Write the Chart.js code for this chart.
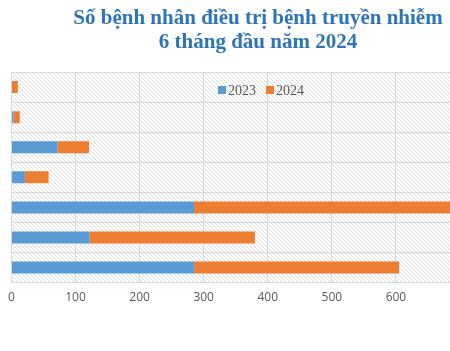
<!DOCTYPE html>
<html>
<head>
<meta charset="utf-8">
<script src="https://cdn.jsdelivr.net/npm/chart.js@4"></script>
<style>
  html, body { margin: 0; padding: 0; background: #fff; overflow: hidden; }
  #wrap { position: relative; width: 516px; height: 351px; }
</style>
</head>
<body>
<div id="wrap"><canvas id="grafico" width="516" height="351"></canvas></div>
<script>
const categorias = ['', '', '', '', '', '', ''];
const series = ['2023', '2024'];
const valores2023 = [0, 3, 72, 21, 285, 122, 285];
const valores2024 = [10, 10, 49, 37, 410, 258, 320];
const ticksX = [0, 100, 200, 300, 400, 500, 600, 700];
const cores = ['#5b9bd5', '#ed7d31'];

// fundo hachurado da área do gráfico
function criarHachura() {
    const c = document.createElement('canvas');
    c.width = 4; c.height = 4;
    const g = c.getContext('2d');
    g.strokeStyle = '#dcdcdc';
    g.lineWidth = 1;
    g.beginPath();
    g.moveTo(-1, -1); g.lineTo(5, 5);
    g.moveTo(-1, 3); g.lineTo(1, 5);
    g.moveTo(3, -1); g.lineTo(5, 1);
    g.stroke();
    return c;
}

const fundoHachurado = {
    id: 'fundoHachurado',
    beforeDraw(chart) {
        const { ctx, chartArea: a } = chart;
        ctx.save();
        ctx.fillStyle = ctx.createPattern(criarHachura(), 'repeat');
        ctx.fillRect(a.left, a.top, a.right - a.left, a.bottom - a.top);
        ctx.restore();
    }
};

// legenda desenhada dentro da área do gráfico
const legendaInterna = {
    id: 'legendaInterna',
    afterDraw(chart) {
        const { ctx } = chart;
        ctx.save();
        ctx.font = '14px "Liberation Serif", serif';
        ctx.textBaseline = 'middle';
        let x = 218;
        const y = 90;
        chart.data.datasets.forEach(ds => {
            ctx.fillStyle = ds.backgroundColor;
            ctx.fillRect(x, y - 4, 8, 8);
            x += 10;
            ctx.fillStyle = '#595959';
            ctx.fillText(ds.label, x, y + 1);
            x += ctx.measureText(ds.label).width + 10;
        });
        ctx.restore();
    }
};

const ctx = document.getElementById('grafico').getContext('2d');
new Chart(ctx, {
    type: 'bar',
    data: {
        labels: categorias,
        datasets: [
            { label: series[0], data: valores2023, backgroundColor: cores[0] },
            { label: series[1], data: valores2024, backgroundColor: cores[1] }
        ]
    },
    options: {
        indexAxis: 'y',
        responsive: false,
        animation: false,
        devicePixelRatio: 1,
        categoryPercentage: 0.4,
        barPercentage: 1,
        layout: { padding: { left: 0, right: 0, top: 0, bottom: 38 } },
        plugins: {
            legend: { display: false },
            tooltip: { enabled: false },
            title: {
                display: true,
                text: ['Số bệnh nhân điều trị bệnh truyền nhiễm', '6 tháng đầu năm 2024'],
                color: '#2e75b6',
                font: { family: '"Liberation Serif", serif', size: 21, weight: 'bold', lineHeight: 1.12 },
                padding: { top: 7, bottom: 18 }
            }
        },
        scales: {
            x: {
                stacked: true,
                min: 0,
                max: 700,
                afterBuildTicks(axis) { axis.ticks = ticksX.map(v => ({ value: v })); },
                grid: { color: '#d9d9d9', lineWidth: 1, drawTicks: false },
                border: { display: false },
                ticks: { color: '#595959', font: { family: '"Open Sans", sans-serif', size: 12 }, padding: 8 }
            },
            y: {
                stacked: true,
                afterFit(axis) { axis.width = 11; },
                grid: { color: '#d9d9d9', lineWidth: 1, offset: true, drawTicks: false },
                border: { color: '#d9d9d9' },
                ticks: { display: false }
            },
            margemDireita: {
                type: 'category',
                position: 'right',
                afterFit(axis) { axis.width = 56; },
                grid: { display: false },
                border: { display: false },
                ticks: { display: false }
            }
        }
    },
    plugins: [fundoHachurado, legendaInterna]
});
</script>
</body>
</html>
